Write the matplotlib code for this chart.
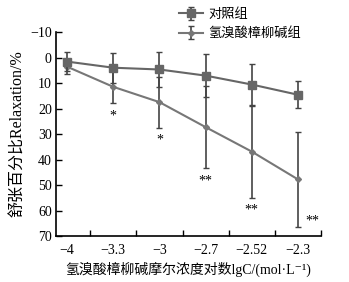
import matplotlib
matplotlib.use("Agg")
import matplotlib.pyplot as plt
import numpy as np

plt.rcParams['font.family'] = ['Liberation Serif', 'Noto Sans CJK SC', 'DejaVu Sans']
plt.rcParams['axes.unicode_minus'] = True

# data
conc_labels = ['\u22124', '\u22123.3', '\u22123', '\u22122.7', '\u22122.52', '\u22122.3']
control = [1.6, 4.0, 4.7, 7.1, 10.6, 14.6]
control_err = [3.8, 5.8, 7.0, 8.3, 8.1, 5.2]
drug = [3.6, 11.5, 17.5, 27.3, 36.9, 47.8]
drug_err = [2.8, 6.3, 10.0, 16.2, 18.0, 18.5]
stars = ['', '*', '*', '**', '**', '**']

x = np.arange(len(conc_labels))

fig = plt.figure(figsize=(3.49, 2.82), dpi=100)
ax = fig.add_axes([0.1605, 0.163, 0.7595, 0.7235])

ax.errorbar(x, control, yerr=control_err, color='#666666', lw=1.5,
            marker='s', ms=6, ecolor='#444444', elinewidth=1.2, capsize=2.5,
            capthick=1.0, label='对照组', zorder=3)
ax.errorbar(x, drug, yerr=drug_err, color='#777777', lw=1.5,
            marker='D', ms=3, ecolor='#444444', elinewidth=1.2, capsize=2.5,
            capthick=1.0, label='氢溴酸樟柳碱组', zorder=2)

# significance marks
for i, s in enumerate(stars):
    if not s:
        continue
    if i == len(stars) - 1:
        ax.text(x[i] + 0.3, drug[i] + drug_err[i] - 2.0, s, ha='center', va='center', fontsize=10)
    else:
        ax.text(x[i], drug[i] + drug_err[i] + 5.0, s, ha='center', va='center', fontsize=10)

ax.set_xlim(-0.24, 5.49)
ax.set_ylim(70, -10)
ax.set_yticks(np.arange(-10, 71, 10))
ax.set_yticklabels(['\u221210', '0', '10', '20', '30', '40', '50', '60', '70'], fontsize=10)
ax.set_xticks(x)
ax.set_xticklabels(conc_labels, fontsize=10)
ax.tick_params(axis='x', which='major', length=0, pad=6)
ax.set_xticks(x + 0.5, minor=True)
ax.tick_params(axis='x', which='minor', direction='in', length=4, width=1)
ax.tick_params(axis='y', direction='in', length=4, width=1, pad=3)

for sp in ['top', 'right']:
    ax.spines[sp].set_visible(False)
for sp in ['left', 'bottom']:
    ax.spines[sp].set_linewidth(1.2)

ax.set_ylabel('舒张百分比Relaxation/%', fontsize=11.5, labelpad=3)
ax.set_xlabel('氢溴酸樟柳碱摩尔浓度对数lgC/(mol\u00b7L\u207b\u00b9)', fontsize=10, labelpad=3)

ax.legend(loc='upper left', bbox_to_anchor=(0.42, 1.175), frameon=False,
          fontsize=9.5, handlelength=1.8, handletextpad=0.4, labelspacing=0.5)

fig.savefig('out.png', dpi=100)
